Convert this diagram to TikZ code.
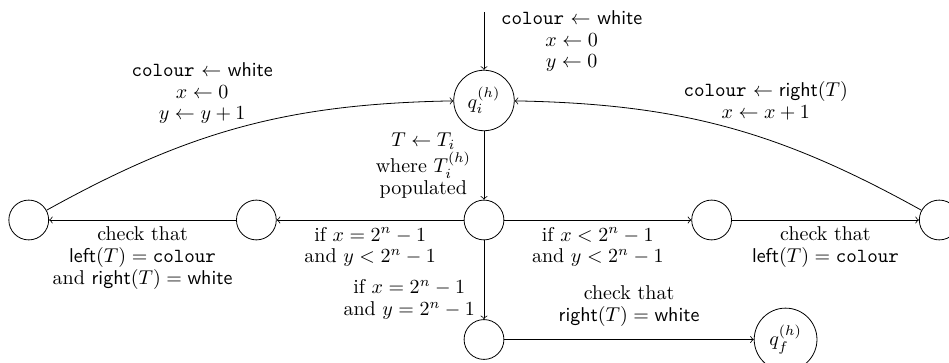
\documentclass[tikz,border=0pt]{standalone}
\usepackage{amsmath}
\usetikzlibrary{positioning}

\begin{document}
\begin{tikzpicture}[
  state/.style={circle,draw,minimum size=7mm},
  trans/.style={->},
  lbl/.style={align=center,font=\fontsize{10pt}{10.8pt}\selectfont},
  node distance=4cm, on grid,
]
  \useasboundingbox (-242pt,-71.5pt) rectangle (232.5pt,110pt);
  \node[state] (mid) {};
  \node[state,above=2.1cm of mid] (qi) {$q_i^{(h)}$};
  \node[state,left=of mid] (l1) {};
  \node[state,left=of l1] (l2) {};
  \node[state,right=of mid] (r1) {};
  \node[state,right=of r1] (r2) {};
  \node[state,below=2.1cm of mid] (bot) {};
  \node[state,right=5.3cm of bot] (qf) {$q_f^{(h)}$};
  \coordinate[above=1.55cm of qi] (init);
  \draw[trans] (init) -- node[midway,right=5pt,lbl]
     {\texttt{colour} $\leftarrow$ \textsf{white}\\ $x \leftarrow 0$\\ $y \leftarrow 0$} (qi);
  \draw[trans] (qi) -- node[midway,left=3pt,lbl]
     {$T \leftarrow T_i$\\ where $T_i^{(h)}$\\ populated} (mid);
  \draw[trans] (mid) -- node[midway,below,lbl]
     {if $x = 2^n - 1$\\ and $y < 2^n - 1$} (l1);
  \draw[trans] (l1) -- node[midway,below,lbl]
     {check that\\ $\textsf{left}(T) = \texttt{colour}$\\ and $\textsf{right}(T) = \textsf{white}$} (l2);
  \draw[trans] (mid) -- node[midway,below,lbl]
     {if $x < 2^n - 1$\\ and $y < 2^n - 1$} (r1);
  \draw[trans] (r1) -- node[midway,below,lbl]
     {check that\\ $\textsf{left}(T) = \texttt{colour}$} (r2);
  \draw[trans] (mid) -- node[pos=0.75,left=1pt,lbl]
     {if $x = 2^n - 1$\\ and $y = 2^n - 1$} (bot);
  \draw[trans] (bot) -- node[midway,above=3pt,lbl]
     {check that\\ $\textsf{right}(T) = \textsf{white}$} (qf);
  % loops back to the start state
  \draw[trans] (l2) to[bend left=14] node[midway,above,xshift=-20pt,yshift=-2pt,lbl]
     {\texttt{colour} $\leftarrow$ \textsf{white}\\ $x \leftarrow 0$\\ $y \leftarrow y + 1$} (qi);
  \draw[trans] (r2) to[bend right=14] node[midway,above,xshift=20pt,lbl]
     {\texttt{colour} $\leftarrow \textsf{right}(T)$\\ $x \leftarrow x + 1$} (qi);
\end{tikzpicture}
\end{document}
